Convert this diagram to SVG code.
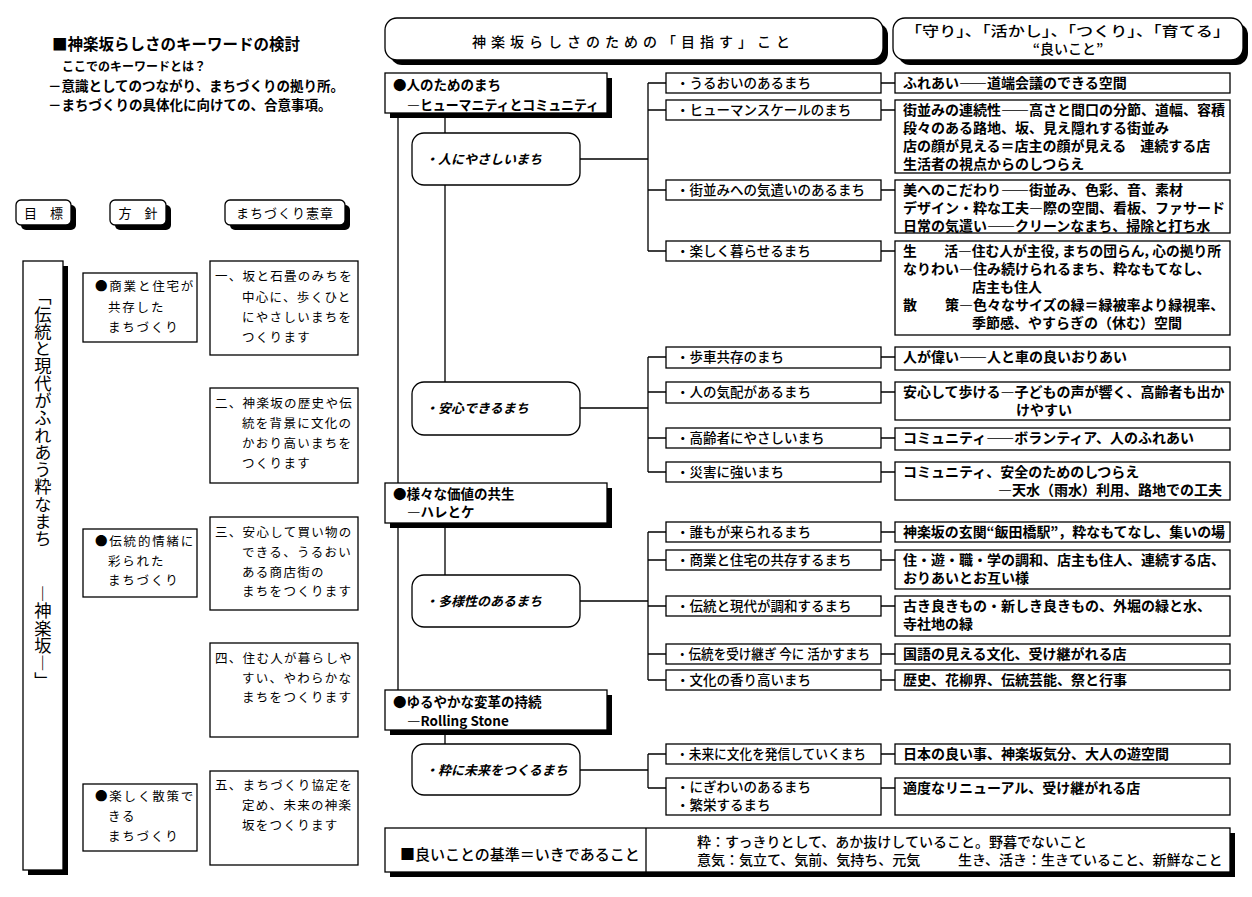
<svg xmlns="http://www.w3.org/2000/svg" width="1252" height="897" viewBox="0 0 1252 897">
<style>
text{font-family:"Noto Sans CJK JP","Noto Sans",sans-serif;fill:#000}
.b{fill:#fff;stroke:#000;stroke-width:1.3}
.s{fill:#000}
.ln{stroke:#000;stroke-width:1.3;fill:none}
.t1{font-size:15.5px;font-weight:700}
.t2{font-size:13.5px;font-weight:700}
.hd{font-size:13px}
.pol{font-size:12.5px;letter-spacing:1.8px}
.cht{font-size:12.5px;letter-spacing:1.3px}
.vt{font-size:17.3px;writing-mode:vertical-rl}
.h1{font-size:14px;font-weight:500;letter-spacing:5px}
.h2{font-size:14px;font-weight:500}
.nd{font-size:13.5px;font-weight:700}
.rd{font-size:13px;font-weight:700;font-style:italic}
.l3{font-size:13.5px;font-weight:500}
.ds{font-size:14px;font-weight:700}
.bt{font-size:15px;font-weight:500}
.br{font-size:14px;font-weight:500}
</style>
<rect width="1252" height="897" fill="#fff"/>

<g id="intro">
<text class="t1" x="52" y="50">■神楽坂らしさのキーワードの検討</text>
<text class="t2" x="62" y="71" style="font-size:12px">ここでのキーワードとは？</text>
<text class="t2" x="48" y="91">－意識としてのつながり、まちづくりの拠り所。</text>
<text class="t2" x="48" y="110">－まちづくりの具体化に向けての、合意事項。</text>
</g>

<g id="hdr-goal"><rect class="s" x="21" y="205" width="55" height="25" rx="5"/><rect class="b" x="16" y="200" width="55" height="25" rx="5"/><text class="hd" x="43.5" y="217.5" text-anchor="middle">目　標</text></g>
<g id="hdr-policy"><rect class="s" x="115" y="205" width="56" height="25" rx="5"/><rect class="b" x="110" y="200" width="56" height="25" rx="5"/><text class="hd" x="138" y="217.5" text-anchor="middle">方　針</text></g>
<g id="hdr-charter"><rect class="s" x="230" y="205" width="120" height="25" rx="5"/><rect class="b" x="225" y="200" width="120" height="25" rx="5"/><text class="hd" x="285" y="217.5" text-anchor="middle" style="letter-spacing:1px">まちづくり憲章</text></g>

<g id="goal">
<rect class="s" x="28" y="266" width="40" height="609"/>
<rect class="b" x="23" y="261" width="40" height="609"/>
<text class="vt" x="43" y="288">「伝統と現代がふれあう粋なまち</text>
<text class="vt" x="43" y="585">―神楽坂―」</text>
</g>

<g id="policy1"><rect class="b" x="83" y="273" width="114" height="69"/>
<text class="pol" x="95" y="291">●商業と住宅が</text><text class="pol" x="108" y="312">共存した</text><text class="pol" x="108" y="332">まちづくり</text></g>
<g id="policy2"><rect class="b" x="83" y="529" width="114" height="68"/>
<text class="pol" x="95" y="546">●伝統的情緒に</text><text class="pol" x="108" y="566">彩られた</text><text class="pol" x="108" y="585">まちづくり</text></g>
<g id="policy3"><rect class="b" x="83" y="784" width="114" height="67"/>
<text class="pol" x="95" y="801">●楽しく散策で</text><text class="pol" x="108" y="821">きる</text><text class="pol" x="108" y="841">まちづくり</text></g>

<g id="charter1"><rect class="b" x="210" y="261" width="148" height="94"/>
<text class="cht" x="215" y="280.5">一、坂と石畳のみちを</text><text class="cht" x="242" y="301.5">中心に、歩くひと</text><text class="cht" x="242" y="321.5">にやさしいまちを</text><text class="cht" x="242" y="341.5">つくります</text></g>
<g id="charter2"><rect class="b" x="210" y="388" width="148" height="95"/>
<text class="cht" x="215" y="407.5">二、神楽坂の歴史や伝</text><text class="cht" x="242" y="427.5">統を背景に文化の</text><text class="cht" x="242" y="447.5">かおり高いまちを</text><text class="cht" x="242" y="467.5">つくります</text></g>
<g id="charter3"><rect class="b" x="210" y="517" width="148" height="93"/>
<text class="cht" x="215" y="536.5">三、安心して買い物の</text><text class="cht" x="242" y="556.5">できる、うるおい</text><text class="cht" x="242" y="576.5">ある商店街の</text><text class="cht" x="242" y="596">まちをつくります</text></g>
<g id="charter4"><rect class="b" x="210" y="643" width="148" height="94"/>
<text class="cht" x="215" y="662.5">四、住む人が暮らしや</text><text class="cht" x="242" y="682.5">すい、やわらかな</text><text class="cht" x="242" y="702">まちをつくります</text></g>
<g id="charter5"><rect class="b" x="210" y="771" width="148" height="94"/>
<text class="cht" x="215" y="789.5">五、まちづくり協定を</text><text class="cht" x="242" y="809.5">定め、未来の神楽</text><text class="cht" x="242" y="829.5">坂をつくります</text></g>

<g id="header-aim"><rect class="s" x="390" y="23" width="498" height="42" rx="12"/><rect class="b" x="385" y="18" width="498" height="42" rx="12"/>
<text class="h1" x="472" y="47">神楽坂らしさのための「目指す」こと</text></g>
<g id="header-good"><rect class="s" x="898" y="23" width="350" height="42" rx="12"/><rect class="b" x="893" y="18" width="350" height="42" rx="12"/>
<text class="h2" x="905" y="36" textLength="325" lengthAdjust="spacingAndGlyphs">「守り」、「活かし」、「つくり」、「育てる」</text>
<text class="h2" x="1068" y="54" text-anchor="middle">“良いこと”</text></g>

<g id="connectors" class="ln">
<path d="M398 113V483M398 523V690"/>
<path d="M445 113V133M445 185V382M445 523V575M445 730V744"/>
<path d="M580 159H648M648 83V251M648 83H666M648 110H666M648 190H666M648 251H666"/>
<path d="M580 408H648M648 357V472M648 357H666M648 392H666M648 438H666M648 472H666"/>
<path d="M580 601H648M648 532V680M648 532H666M648 560H666M648 606H666M648 654H666M648 680H666"/>
<path d="M580 770H648M648 754V788M648 754H666M648 788H666"/>
<path d="M881 83H895M881 110H895M881 190H895M881 251H895M881 357H895M881 392H895M881 438H895M881 472H895M881 532H895M881 560H895M881 606H895M881 654H895M881 680H895M881 754H895M881 788H895"/>
</g>

<g id="node-people"><rect class="s" x="390" y="78" width="222" height="40"/><rect class="b" x="385" y="73" width="222" height="40"/>
<text class="nd" x="393" y="90">●人のためのまち</text><text class="nd" x="407" y="110" textLength="192" lengthAdjust="spacingAndGlyphs">―ヒューマニティとコミュニティ</text></g>
<g id="node-values"><rect class="s" x="390" y="488" width="222" height="40"/><rect class="b" x="385" y="483" width="222" height="40"/>
<text class="nd" x="393" y="499">●様々な価値の共生</text><text class="nd" x="407" y="517">―ハレとケ</text></g>
<g id="node-change"><rect class="s" x="390" y="695" width="222" height="40"/><rect class="b" x="385" y="690" width="222" height="40"/>
<text class="nd" x="393" y="707">●ゆるやかな変革の持続</text><text class="nd" x="407" y="726">―Rolling Stone</text></g>

<g id="r-kind"><rect class="b" x="412" y="133" width="168" height="52" rx="12"/><text class="rd" x="425" y="164">・人にやさしいまち</text></g>
<g id="r-safe"><rect class="b" x="412" y="382" width="168" height="53" rx="12"/><text class="rd" x="425" y="413">・安心できるまち</text></g>
<g id="r-diverse"><rect class="b" x="412" y="575" width="168" height="52" rx="12"/><text class="rd" x="425" y="606">・多様性のあるまち</text></g>
<g id="r-future"><rect class="b" x="412" y="744" width="168" height="51" rx="12"/><text class="rd" x="425" y="775">・粋に未来をつくるまち</text></g>

<g id="a1"><rect class="b" x="666" y="73" width="215" height="20"/><text class="l3" x="676" y="88">・うるおいのあるまち</text></g>
<g id="a2"><rect class="b" x="666" y="100" width="215" height="20"/><text class="l3" x="676" y="115">・ヒューマンスケールのまち</text></g>
<g id="a3"><rect class="b" x="666" y="180" width="215" height="20"/><text class="l3" x="676" y="195">・街並みへの気遣いのあるまち</text></g>
<g id="a4"><rect class="b" x="666" y="241" width="215" height="20"/><text class="l3" x="676" y="256">・楽しく暮らせるまち</text></g>
<g id="a5"><rect class="b" x="666" y="347" width="215" height="21"/><text class="l3" x="676" y="362">・歩車共存のまち</text></g>
<g id="a6"><rect class="b" x="666" y="382" width="215" height="21"/><text class="l3" x="676" y="397">・人の気配があるまち</text></g>
<g id="a7"><rect class="b" x="666" y="428" width="215" height="20"/><text class="l3" x="676" y="443">・高齢者にやさしいまち</text></g>
<g id="a8"><rect class="b" x="666" y="462" width="215" height="20"/><text class="l3" x="676" y="477">・災害に強いまち</text></g>
<g id="a9"><rect class="b" x="666" y="522" width="215" height="20"/><text class="l3" x="676" y="537">・誰もが来られるまち</text></g>
<g id="a10"><rect class="b" x="666" y="550" width="215" height="20"/><text class="l3" x="676" y="565">・商業と住宅の共存するまち</text></g>
<g id="a11"><rect class="b" x="666" y="596" width="215" height="20"/><text class="l3" x="676" y="611">・伝統と現代が調和するまち</text></g>
<g id="a12"><rect class="b" x="666" y="644" width="215" height="20"/><text class="l3" x="676" y="659" textLength="194" lengthAdjust="spacingAndGlyphs">・伝統を受け継ぎ 今に 活かすまち</text></g>
<g id="a13"><rect class="b" x="666" y="670" width="215" height="20"/><text class="l3" x="676" y="685">・文化の香り高いまち</text></g>
<g id="a14"><rect class="b" x="666" y="744" width="215" height="20"/><text class="l3" x="676" y="759" textLength="190" lengthAdjust="spacingAndGlyphs">・未来に文化を発信していくまち</text></g>
<g id="a15"><rect class="b" x="666" y="778" width="215" height="37"/><text class="l3" x="676" y="792">・にぎわいのあるまち</text><text class="l3" x="676" y="810">・繁栄するまち</text></g>

<g id="d1"><rect class="b" x="895" y="73" width="335" height="20"/><text class="ds" x="903" y="88">ふれあい――道端会議のできる空間</text></g>
<g id="d2"><rect class="b" x="895" y="100" width="335" height="73"/>
<text class="ds" x="903" y="115">街並みの連続性――高さと間口の分節、道幅、容積</text>
<text class="ds" x="903" y="133">段々のある路地、坂、見え隠れする街並み</text>
<text class="ds" x="903" y="151">店の顔が見える＝店主の顔が見える　連続する店</text>
<text class="ds" x="903" y="169">生活者の視点からのしつらえ</text></g>
<g id="d3"><rect class="b" x="895" y="180" width="335" height="53"/>
<text class="ds" x="903" y="195">美へのこだわり――街並み、色彩、音、素材</text>
<text class="ds" x="903" y="213">デザイン・粋な工夫―際の空間、看板、ファサード</text>
<text class="ds" x="903" y="231">日常の気遣い――クリーンなまち、掃除と打ち水</text></g>
<g id="d4"><rect class="b" x="895" y="241" width="335" height="94"/>
<text class="ds" x="903" y="256" textLength="318" lengthAdjust="spacingAndGlyphs">生　　活―住む人が主役, まちの団らん, 心の拠り所</text>
<text class="ds" x="903" y="274">なりわい―住み続けられるまち、粋なもてなし、</text>
<text class="ds" x="972" y="292">店主も住人</text>
<text class="ds" x="903" y="310">散　　策―色々なサイズの緑＝緑被率より緑視率、</text>
<text class="ds" x="972" y="328">季節感、やすらぎの（休む）空間</text></g>
<g id="d5"><rect class="b" x="895" y="347" width="335" height="23"/><text class="ds" x="903" y="362">人が偉い――人と車の良いおりあい</text></g>
<g id="d6"><rect class="b" x="895" y="382" width="335" height="38"/>
<text class="ds" x="903" y="397">安心して歩ける―子どもの声が響く、高齢者も出か</text>
<text class="ds" x="1016" y="415">けやすい</text></g>
<g id="d7"><rect class="b" x="895" y="428" width="335" height="22"/><text class="ds" x="903" y="443">コミュニティ――ボランティア、人のふれあい</text></g>
<g id="d8"><rect class="b" x="895" y="462" width="335" height="38"/>
<text class="ds" x="903" y="477">コミュニティ、安全のためのしつらえ</text>
<text class="ds" x="1222" y="495" text-anchor="end">―天水（雨水）利用、路地での工夫</text></g>
<g id="d9"><rect class="b" x="895" y="522" width="335" height="20"/><text class="ds" x="903" y="537" textLength="322" lengthAdjust="spacingAndGlyphs">神楽坂の玄関“飯田橋駅”，粋なもてなし、集いの場</text></g>
<g id="d10"><rect class="b" x="895" y="550" width="335" height="39"/>
<text class="ds" x="903" y="565">住・遊・職・学の調和、店主も住人、連続する店、</text>
<text class="ds" x="903" y="583">おりあいとお互い様</text></g>
<g id="d11"><rect class="b" x="895" y="596" width="335" height="40"/>
<text class="ds" x="903" y="611">古き良きもの・新しき良きもの、外堀の緑と水、</text>
<text class="ds" x="903" y="629">寺社地の緑</text></g>
<g id="d12"><rect class="b" x="895" y="644" width="335" height="20"/><text class="ds" x="903" y="659">国語の見える文化、受け継がれる店</text></g>
<g id="d13"><rect class="b" x="895" y="670" width="335" height="20"/><text class="ds" x="903" y="685">歴史、花柳界、伝統芸能、祭と行事</text></g>
<g id="d14"><rect class="b" x="895" y="744" width="335" height="20"/><text class="ds" x="903" y="759">日本の良い事、神楽坂気分、大人の遊空間</text></g>
<g id="d15"><rect class="b" x="895" y="778" width="335" height="37"/><text class="ds" x="903" y="793">適度なリニューアル、受け継がれる店</text></g>

<g id="criteria"><rect class="s" x="390" y="833" width="845" height="44"/><rect class="b" x="385" y="828" width="845" height="44"/>
<path class="ln" d="M646 828V872"/>
<text class="bt" x="400" y="860">■良いことの基準＝いきであること</text>
<text class="br" x="697" y="847">粋：すっきりとして、あか抜けしていること。野暮でないこと</text>
<text class="br" x="697" y="865">意気：気立て、気前、気持ち、元気</text>
<text class="br" x="958" y="865">生き、活き：生きていること、新鮮なこと</text></g>
</svg>
